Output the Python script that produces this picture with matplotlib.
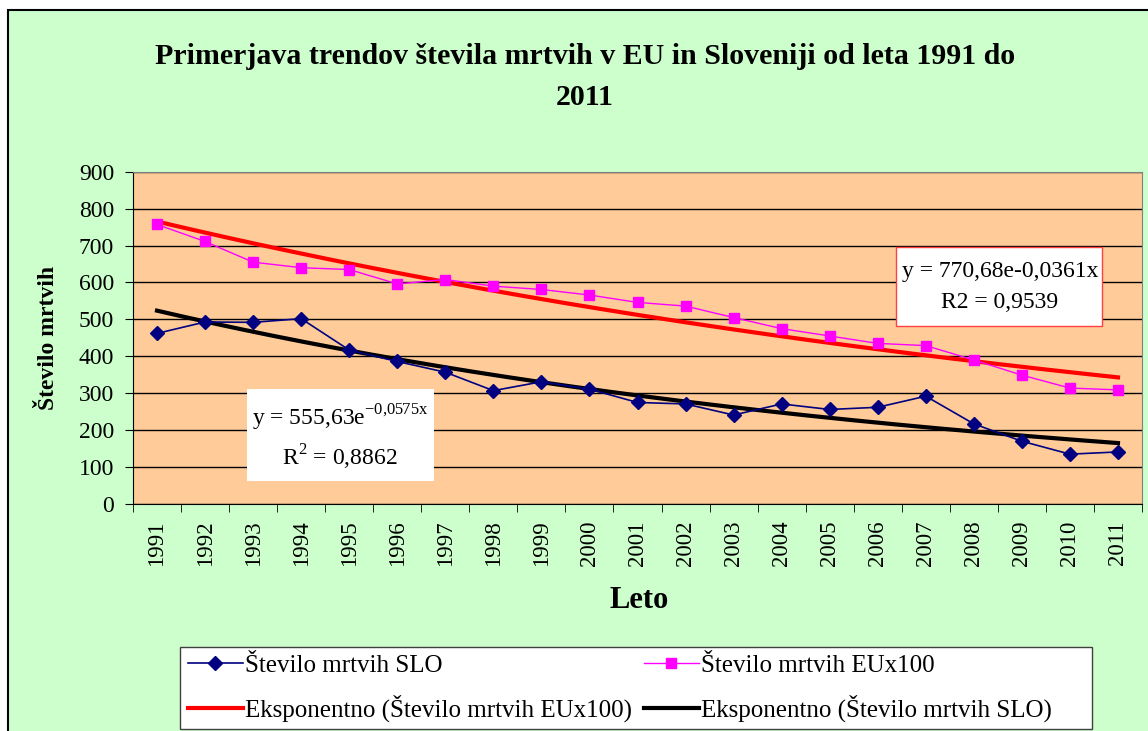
import matplotlib
matplotlib.use("Agg")
import matplotlib.pyplot as plt
from matplotlib.patches import Rectangle
import numpy as np

plt.rcParams['font.family'] = ['Liberation Serif', 'DejaVu Serif']
plt.rcParams['mathtext.fontset'] = 'custom'
plt.rcParams['mathtext.rm'] = 'Liberation Serif'

years = ['1991', '1992', '1993', '1994', '1995', '1996', '1997', '1998', '1999', '2000',
         '2001', '2002', '2003', '2004', '2005', '2006', '2007', '2008', '2009', '2010', '2011']
slo = [462, 493, 492, 502, 417, 386, 357, 307, 331, 311,
       275, 271, 241, 271, 256, 262, 292, 217, 170, 135, 141]
eu = [757, 711, 655, 640, 635, 596, 608, 590, 581, 566,
      546, 536, 505, 475, 455, 435, 429, 390, 349, 314, 309]

W, H = 1148, 731


def fx(x):
    return x / W


def fy(y):
    return 1 - y / H


fig = plt.figure(figsize=(W / 100, H / 100), dpi=100, facecolor='white')
fig.patches.append(Rectangle((fx(8), fy(H + 5)), 1, fy(10) - fy(H + 5),
                             transform=fig.transFigure, facecolor='#CCFFCC',
                             edgecolor='black', linewidth=1.5, zorder=0))

ax = fig.add_axes([fx(133), fy(504), fx(1142) - fx(133), fy(171.7) - fy(504)])
ax.set_zorder(1)
ax.set_facecolor('#FFCC99')

x = np.arange(len(years))
ax.plot(x, slo, color='#000080', marker='D', markersize=7.5, linewidth=1.2,
        label='Število mrtvih SLO', zorder=4)
ax.plot(x, eu, color='#FF00FF', marker='s', markersize=7.5, linewidth=1.0,
        markeredgecolor='#FF00FF', label='Število mrtvih EUx100', zorder=4)

# exponential trend lines (Excel style), x = 1..21
xn = x + 1
xs = np.linspace(1, len(years), 200)
b_eu, a_eu = np.polyfit(xn, np.log(eu), 1)
b_slo, a_slo = np.polyfit(xn, np.log(slo), 1)
ax.plot(xs - 1, np.exp(a_eu) * np.exp(b_eu * xs), color='#FF0000', linewidth=3,
        label='Eksponentno (Število mrtvih EUx100)', zorder=3)
ax.plot(xs - 1, np.exp(a_slo) * np.exp(b_slo * xs), color='black', linewidth=3,
        label='Eksponentno (Število mrtvih SLO)', zorder=3)

ax.set_xlim(-0.5, len(years) - 0.5)
ax.set_ylim(0, 900)
ax.set_yticks(range(0, 901, 100))
ax.grid(axis='y', color='black', linewidth=1)
ax.set_axisbelow(True)

ax.set_xticks(x)
ax.set_xticklabels(years, rotation=90)
ax.set_xticks(np.arange(-0.5, len(years), 1), minor=True)
ax.tick_params(axis='x', which='major', length=0, pad=12, labelsize=16.5)
ax.tick_params(axis='x', which='minor', length=6, direction='out', color='black')
ax.tick_params(axis='y', length=6, direction='out', pad=7.5, labelsize=17, color='black')

for s in ['top', 'right']:
    ax.spines[s].set_color('#808080')
for s in ['left', 'bottom']:
    ax.spines[s].set_color('black')

fig.text(fx(639), fy(600), 'Leto', ha='center', va='center', fontsize=22, fontweight='bold')
fig.text(fx(48), fy(338), 'Število mrtvih', ha='center', va='center', rotation=90,
         fontsize=17, fontweight='bold')
fig.text(fx(585), fy(77), 'Primerjava trendov števila mrtvih v EU in Sloveniji od leta 1991 do\n2011',
         ha='center', va='center', fontsize=21.5, fontweight='bold', linespacing=1.66)

# trend equation boxes
fig.patches.append(Rectangle((fx(247), fy(481)), fx(434) - fx(247), fy(389) - fy(481),
                             transform=fig.transFigure, facecolor='white',
                             edgecolor='none', zorder=5))
fig.text(fx(340), fy(418), r'y = 555,63e$^{\mathrm{-0{,}0575x}}$', ha='center', va='center',
         fontsize=17, zorder=6)
fig.text(fx(340), fy(457), r'R$^{\mathrm{2}}$ = 0,8862', ha='center', va='center',
         fontsize=17, zorder=6)

fig.patches.append(Rectangle((fx(896), fy(326)), fx(1102) - fx(896), fy(247) - fy(326),
                             transform=fig.transFigure, facecolor='white',
                             edgecolor='#FF4040', linewidth=1, zorder=5))
fig.text(fx(1000), fy(272), 'y = 770,68e-0,0361x', ha='center', va='center', fontsize=17, zorder=6)
fig.text(fx(1000), fy(302), 'R2 = 0,9539', ha='center', va='center', fontsize=17, zorder=6)

# legend frame + legend
fig.patches.append(Rectangle((fx(180), fy(729)), fx(1092) - fx(180), fy(647) - fy(729),
                             transform=fig.transFigure, facecolor='white',
                             edgecolor='#404040', linewidth=1, zorder=6))
h, l = ax.get_legend_handles_labels()
order = [0, 2, 1, 3]
leg = fig.legend([h[i] for i in order], [l[i] for i in order], ncol=2,
                 loc='upper left', bbox_to_anchor=(fx(188), fy(654)),
                 fontsize=18, frameon=False,
                 handlelength=2.2, handletextpad=0.1, borderaxespad=0,
                 borderpad=0, labelspacing=0.72, columnspacing=0.45)
leg.set_zorder(7)

fig.savefig('out.png', dpi=100, facecolor='white')
